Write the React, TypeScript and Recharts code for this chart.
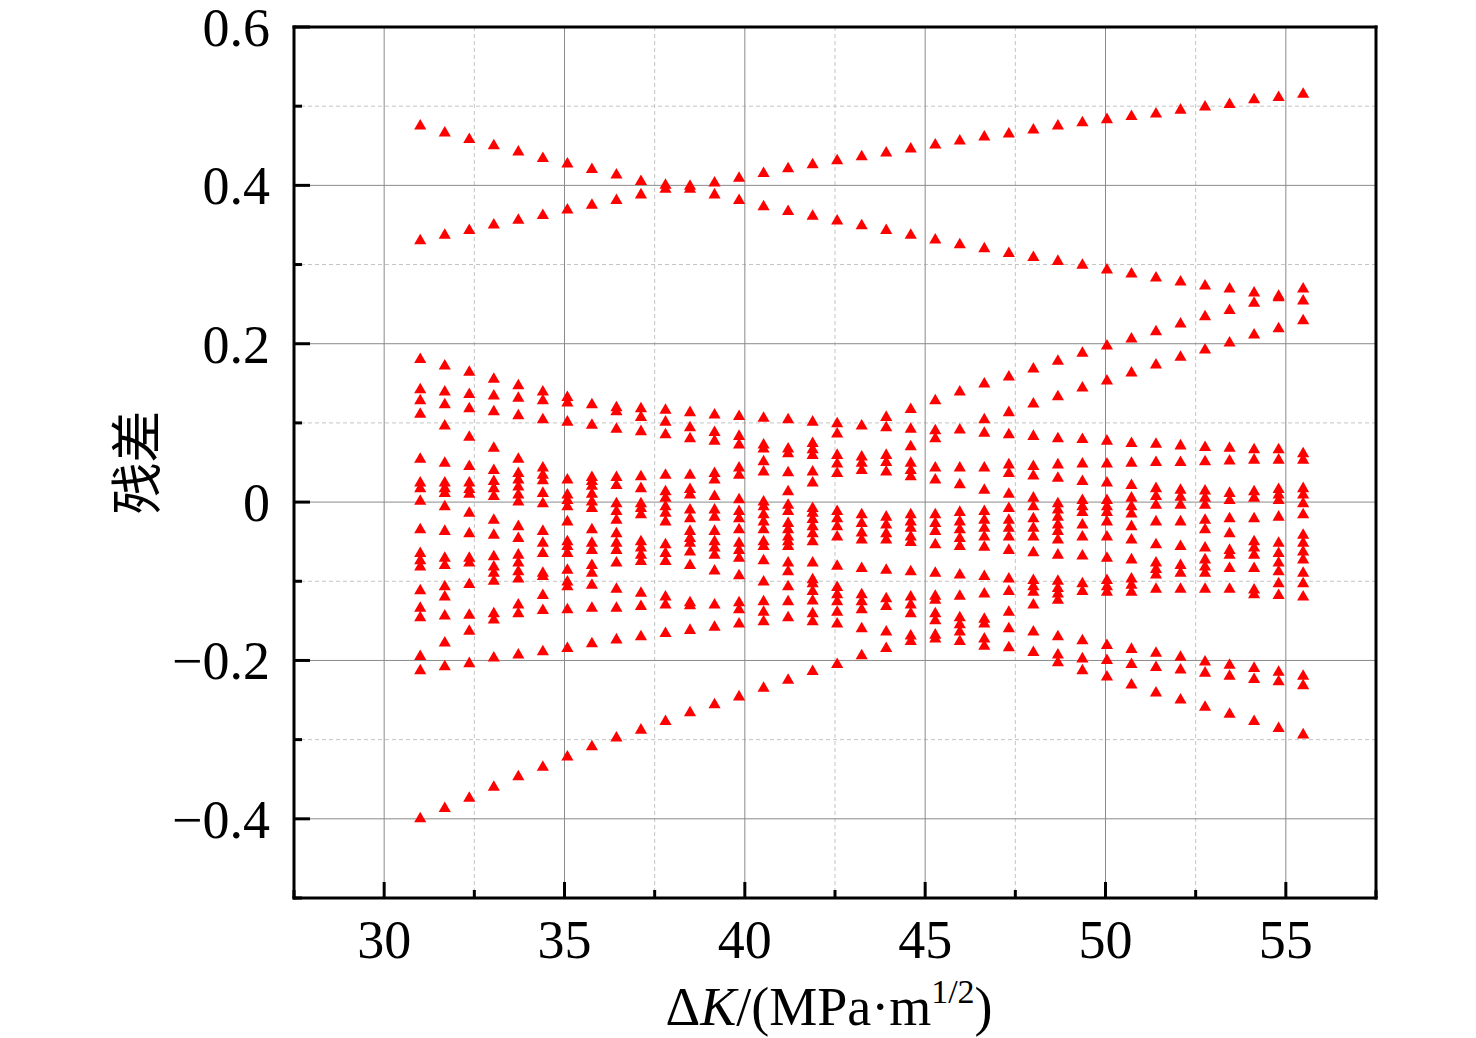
import { CartesianGrid, Label, Scatter, ScatterChart, XAxis, YAxis, ZAxis } from 'recharts';

// ΔK values of the measured columns
const dK = [
  31.0, 31.68, 32.36, 33.04, 33.72, 34.4, 35.08, 35.76, 36.44, 37.12, 37.8, 38.48, 39.16,
  39.84, 40.52, 41.2, 41.88, 42.56, 43.24, 43.92, 44.6, 45.28, 45.96, 46.64, 47.32, 48.0,
  48.68, 49.36, 50.04, 50.72, 51.4, 52.08, 52.76, 53.44, 54.12, 54.8, 55.48,
];

const at31_00 = [0.475, 0.33, 0.18, 0.142, 0.128, 0.111, 0.054, 0.024, 0.017, 0.001, -0.035, -0.065, -0.074, -0.082, -0.112, -0.134, -0.146, -0.195, -0.213, -0.4];
const at31_68 = [0.466, 0.337, 0.172, 0.139, 0.123, 0.096, 0.049, 0.024, 0.017, 0.011, -0.006, -0.037, -0.071, -0.08, -0.107, -0.12, -0.144, -0.178, -0.208, -0.387];
const at32_36 = [0.458, 0.343, 0.164, 0.136, 0.118, 0.082, 0.045, 0.024, 0.016, 0.01, -0.014, -0.04, -0.071, -0.077, -0.104, -0.143, -0.163, -0.204, -0.374];
const at33_04 = [0.45, 0.35, 0.155, 0.134, 0.114, 0.068, 0.04, 0.026, 0.017, 0.007, -0.023, -0.042, -0.069, -0.082, -0.09, -0.1, -0.141, -0.149, -0.197, -0.36];
const at33_72 = [0.442, 0.356, 0.147, 0.131, 0.109, 0.054, 0.036, 0.028, 0.019, 0.009, 0.0, -0.031, -0.046, -0.067, -0.077, -0.088, -0.097, -0.13, -0.141, -0.193, -0.347];
const at34_40 = [0.434, 0.362, 0.139, 0.128, 0.104, 0.043, 0.034, 0.027, 0.011, -0.002, -0.037, -0.052, -0.065, -0.09, -0.094, -0.118, -0.137, -0.189, -0.335];
const at35_08 = [0.427, 0.369, 0.132, 0.125, 0.101, 0.028, 0.009, 0.002, -0.006, -0.025, -0.05, -0.056, -0.065, -0.086, -0.101, -0.107, -0.136, -0.185, -0.322];
const at35_76 = [0.42, 0.375, 0.123, 0.097, 0.031, 0.026, 0.02, 0.01, 0.0, -0.008, -0.035, -0.052, -0.061, -0.08, -0.09, -0.105, -0.134, -0.179, -0.309];
const at36_44 = [0.413, 0.381, 0.119, 0.114, 0.092, 0.031, 0.021, -0.002, -0.012, -0.023, -0.04, -0.052, -0.061, -0.077, -0.11, -0.134, -0.174, -0.298];
const at37_12 = [0.405, 0.388, 0.118, 0.107, 0.089, 0.032, 0.017, -0.002, -0.008, -0.016, -0.05, -0.058, -0.067, -0.075, -0.115, -0.132, -0.17, -0.288];
const at37_80 = [0.4, 0.395, 0.116, 0.101, 0.085, 0.034, 0.013, 0.005, -0.006, -0.014, -0.025, -0.054, -0.065, -0.075, -0.12, -0.13, -0.166, -0.277];
const at38_48 = [0.399, 0.395, 0.113, 0.094, 0.08, 0.034, 0.016, 0.009, -0.01, -0.021, -0.037, -0.046, -0.052, -0.063, -0.08, -0.127, -0.131, -0.162, -0.266];
const at39_16 = [0.403, 0.388, 0.11, 0.088, 0.077, 0.036, 0.028, 0.007, -0.01, -0.019, -0.037, -0.05, -0.058, -0.067, -0.087, -0.13, -0.158, -0.256];
const at39_84 = [0.409, 0.381, 0.108, 0.083, 0.072, 0.043, 0.034, 0.003, -0.012, -0.021, -0.035, -0.052, -0.061, -0.071, -0.093, -0.127, -0.136, -0.154, -0.246];
const at40_52 = [0.415, 0.373, 0.106, 0.072, 0.067, 0.051, 0.038, 0.0, -0.006, -0.016, -0.025, -0.035, -0.05, -0.056, -0.074, -0.101, -0.126, -0.139, -0.151, -0.235];
const at41_20 = [0.421, 0.367, 0.104, 0.067, 0.061, 0.037, 0.013, -0.004, -0.012, -0.027, -0.035, -0.044, -0.05, -0.056, -0.077, -0.088, -0.107, -0.126, -0.146, -0.225];
const at41_88 = [0.426, 0.361, 0.101, 0.074, 0.066, 0.059, 0.038, 0.024, -0.008, -0.014, -0.022, -0.031, -0.04, -0.05, -0.077, -0.098, -0.103, -0.113, -0.125, -0.141, -0.151, -0.214];
const at42_56 = [0.431, 0.355, 0.099, 0.086, 0.059, 0.048, 0.036, -0.012, -0.021, -0.031, -0.044, -0.081, -0.108, -0.117, -0.126, -0.139, -0.154, -0.205];
const at43_24 = [0.436, 0.349, 0.096, 0.057, 0.049, 0.04, -0.016, -0.027, -0.039, -0.048, -0.084, -0.117, -0.126, -0.136, -0.16, -0.194];
const at43_92 = [0.441, 0.343, 0.107, 0.094, 0.059, 0.05, 0.038, -0.019, -0.029, -0.04, -0.048, -0.086, -0.122, -0.132, -0.164, -0.185];
const at44_60 = [0.446, 0.337, 0.117, 0.092, 0.07, 0.049, 0.04, 0.032, -0.016, -0.025, -0.033, -0.044, -0.051, -0.088, -0.12, -0.13, -0.141, -0.169, -0.176];
const at45_28 = [0.451, 0.331, 0.128, 0.09, 0.08, 0.043, 0.028, -0.016, -0.027, -0.037, -0.054, -0.09, -0.119, -0.124, -0.141, -0.15, -0.168, -0.173];
const at45_96 = [0.456, 0.325, 0.139, 0.091, 0.043, 0.022, -0.013, -0.025, -0.035, -0.046, -0.056, -0.092, -0.119, -0.146, -0.155, -0.164, -0.176];
const at46_64 = [0.461, 0.32, 0.149, 0.104, 0.087, 0.043, 0.015, -0.012, -0.023, -0.033, -0.044, -0.057, -0.094, -0.116, -0.148, -0.154, -0.173, -0.182];
const at47_32 = [0.465, 0.314, 0.158, 0.113, 0.085, 0.047, 0.036, 0.01, -0.008, -0.023, -0.033, -0.044, -0.061, -0.097, -0.113, -0.139, -0.16, -0.184];
const at48_00 = [0.47, 0.309, 0.168, 0.124, 0.083, 0.045, 0.033, 0.005, -0.006, -0.021, -0.033, -0.044, -0.064, -0.099, -0.107, -0.114, -0.13, -0.164, -0.19];
const at48_68 = [0.475, 0.304, 0.178, 0.133, 0.08, 0.047, 0.03, -0.002, -0.01, -0.019, -0.029, -0.037, -0.048, -0.067, -0.1, -0.109, -0.116, -0.124, -0.17, -0.193, -0.203];
const at49_36 = [0.479, 0.299, 0.188, 0.144, 0.079, 0.048, 0.026, 0.002, -0.006, -0.013, -0.029, -0.044, -0.068, -0.103, -0.113, -0.175, -0.198, -0.213];
const at50_04 = [0.483, 0.293, 0.197, 0.153, 0.077, 0.048, 0.024, 0.002, -0.006, -0.013, -0.025, -0.044, -0.071, -0.099, -0.107, -0.114, -0.181, -0.2, -0.221];
const at50_72 = [0.487, 0.288, 0.206, 0.163, 0.074, 0.049, 0.021, 0.005, -0.006, -0.015, -0.031, -0.048, -0.073, -0.097, -0.105, -0.114, -0.186, -0.205, -0.231];
const at51_40 = [0.49, 0.283, 0.215, 0.173, 0.073, 0.05, 0.017, 0.007, -0.004, -0.025, -0.054, -0.077, -0.085, -0.092, -0.11, -0.191, -0.209, -0.241];
const at52_08 = [0.495, 0.278, 0.225, 0.183, 0.071, 0.05, 0.015, 0.006, -0.004, -0.025, -0.056, -0.08, -0.09, -0.11, -0.196, -0.212, -0.25];
const at52_76 = [0.499, 0.273, 0.234, 0.192, 0.069, 0.051, 0.014, 0.005, -0.004, -0.023, -0.035, -0.058, -0.073, -0.082, -0.09, -0.11, -0.202, -0.216, -0.259];
const at53_44 = [0.502, 0.269, 0.242, 0.201, 0.068, 0.052, 0.011, 0.002, -0.021, -0.04, -0.061, -0.067, -0.084, -0.11, -0.206, -0.22, -0.268];
const at54_12 = [0.508, 0.264, 0.251, 0.211, 0.066, 0.053, 0.013, 0.005, -0.021, -0.05, -0.058, -0.067, -0.084, -0.111, -0.117, -0.21, -0.224, -0.277];
const at54_80 = [0.511, 0.26, 0.258, 0.219, 0.066, 0.053, 0.016, 0.009, 0.002, -0.019, -0.052, -0.065, -0.077, -0.088, -0.103, -0.118, -0.215, -0.227, -0.286];
const at55_48 = [0.515, 0.269, 0.254, 0.229, 0.061, 0.053, 0.017, 0.009, -0.002, -0.016, -0.042, -0.052, -0.063, -0.073, -0.09, -0.103, -0.12, -0.22, -0.232, -0.294];

const columns = [
  at31_00, at31_68, at32_36, at33_04, at33_72, at34_40, at35_08, at35_76, at36_44, at37_12,
  at37_80, at38_48, at39_16, at39_84, at40_52, at41_20, at41_88, at42_56, at43_24, at43_92,
  at44_60, at45_28, at45_96, at46_64, at47_32, at48_00, at48_68, at49_36, at50_04, at50_72,
  at51_40, at52_08, at52_76, at53_44, at54_12, at54_80, at55_48,
];

const X_TICKS = [27.5, 30, 32.5, 35, 37.5, 40, 42.5, 45, 47.5, 50, 52.5, 55, 57.5];
const X_LABELS = [30, 35, 40, 45, 50, 55];
const Y_TICKS = [-0.5, -0.4, -0.3, -0.2, -0.1, 0, 0.1, 0.2, 0.3, 0.4, 0.5, 0.6];
const Y_LABELS = [-0.4, -0.2, 0, 0.2, 0.4, 0.6];

const points = columns.flatMap((col, i) => col.map((y) => ({ x: dK[i], y })));

const SERIF = '"Liberation Serif", "Times New Roman", serif';
const FRAME = { stroke: '#000', strokeWidth: 3, strokeLinecap: 'square' as const };

const isMajor = (labels: number[], v: number) => labels.some((l) => Math.abs(l - v) < 1e-6);
const fmtY = (v: number) => (Math.abs(v) < 1e-9 ? '0' : (v < 0 ? '\u2212' : '') + Math.abs(v).toFixed(1));

function LeftTick({ x, y, payload }: any) {
  const major = isMajor(Y_LABELS, payload.value);
  return (
    <g>
      <line x1={x} x2={x + (major ? 16 : 8)} y1={y} y2={y} stroke="#000" strokeWidth={3} />
      {major && (
        <text x={x - 24} y={y + 19} textAnchor="end" fontFamily={SERIF} fontSize={54} fill="#000">
          {fmtY(payload.value)}
        </text>
      )}
    </g>
  );
}

function RightTick({ x, y, payload }: any) {
  const major = isMajor(Y_LABELS, payload.value);
  return <line x1={x} x2={x - (major ? 16 : 8)} y1={y} y2={y} stroke="#000" strokeWidth={3} />;
}

function BottomTick({ x, y, payload }: any) {
  const major = isMajor(X_LABELS, payload.value);
  return (
    <g>
      <line x1={x} x2={x} y1={y} y2={y - (major ? 16 : 8)} stroke="#000" strokeWidth={3} />
      {major && (
        <text x={x} y={y + 60} textAnchor="middle" fontFamily={SERIF} fontSize={54} fill="#000">
          {payload.value}
        </text>
      )}
    </g>
  );
}

function TopTick({ x, y, payload }: any) {
  const major = isMajor(X_LABELS, payload.value);
  return <line x1={x} x2={x} y1={y} y2={y + (major ? 16 : 8)} stroke="#000" strokeWidth={3} />;
}

function XTitle({ viewBox }: any) {
  const cx = viewBox.x + viewBox.width / 2 - 6;
  const by = viewBox.y + 127;
  return (
    <text x={cx} y={by} textAnchor="middle" fontFamily={SERIF} fontSize={54} fill="#000">
      <tspan>Δ</tspan>
      <tspan fontStyle="italic">K</tspan>
      <tspan>/(MPa·m</tspan>
      <tspan fontSize={34} dy={-22}>1/2</tspan>
      <tspan dy={22}>)</tspan>
    </text>
  );
}

function YTitle({ viewBox }: any) {
  const cx = viewBox.x + viewBox.width - 161;
  const cy = viewBox.y + viewBox.height / 2;
  return (
    <text
      x={cx}
      y={cy}
      transform={`rotate(-90 ${cx} ${cy})`}
      textAnchor="middle"
      dominantBaseline="central"
      fontFamily='"Noto Sans CJK SC", sans-serif'
      fontSize={52}
      fill="#000"
    >
      残差
    </text>
  );
}

export default function App() {
  return (
    <div style={{ position: 'absolute', left: 0, top: 0, width: 1476, height: 1038, background: '#fff' }}>
      <ScatterChart width={1476} height={1038} margin={{ top: 0, right: 0, bottom: 0, left: 0 }}>
        <CartesianGrid
          stroke="#c4c4c4"
          strokeDasharray="4 3"
          horizontalValues={[-0.3, -0.1, 0.1, 0.3, 0.5]}
          verticalValues={[32.5, 37.5, 42.5, 47.5, 52.5]}
        />
        <CartesianGrid
          stroke="#8a8a8a"
          horizontalValues={[-0.4, -0.2, 0, 0.2, 0.4]}
          verticalValues={[30, 35, 40, 45, 50, 55]}
        />
        <XAxis
          type="number"
          dataKey="x"
          domain={[27.5, 57.5]}
          ticks={X_TICKS}
          interval={0}
          height={140}
          tickSize={0}
          tickMargin={0}
          tickLine={false}
          axisLine={FRAME}
          tick={<BottomTick />}
        >
          <Label content={<XTitle />} />
        </XAxis>
        <XAxis
          xAxisId="top"
          orientation="top"
          type="number"
          domain={[27.5, 57.5]}
          ticks={X_TICKS}
          interval={0}
          height={27}
          tickSize={0}
          tickMargin={0}
          tickLine={false}
          axisLine={FRAME}
          tick={<TopTick />}
        />
        <YAxis
          type="number"
          dataKey="y"
          domain={[-0.5, 0.6]}
          ticks={Y_TICKS}
          interval={0}
          width={294}
          tickSize={0}
          tickMargin={0}
          tickLine={false}
          axisLine={FRAME}
          tick={<LeftTick />}
        >
          <Label content={<YTitle />} />
        </YAxis>
        <YAxis
          yAxisId="right"
          orientation="right"
          type="number"
          domain={[-0.5, 0.6]}
          ticks={Y_TICKS}
          interval={0}
          width={100}
          tickSize={0}
          tickMargin={0}
          tickLine={false}
          axisLine={FRAME}
          tick={<RightTick />}
        />
        <ZAxis range={[80, 80]} />
        <Scatter data={points} fill="#ff0000" shape="triangle" isAnimationActive={false} />
      </ScatterChart>
    </div>
  );
}
